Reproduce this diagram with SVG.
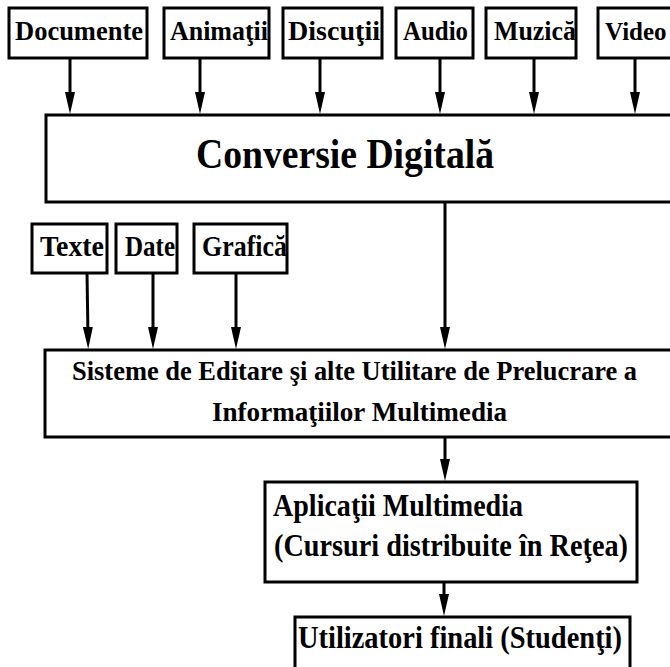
<svg xmlns="http://www.w3.org/2000/svg" width="670" height="667" viewBox="0 0 670 667">
<style>
.box{fill:#fff;stroke:#000;stroke-width:3}
.t{font-family:"Liberation Serif","Times New Roman",serif;font-weight:bold;fill:#000}
.s{font-size:28px}
.m{font-size:29px}
.l{font-size:31px}
.c{stroke:#000;stroke-width:3;fill:none;marker-end:url(#ah)}
</style>
<defs>
<marker id="ah" markerUnits="userSpaceOnUse" viewBox="-12 -6 24 12" refX="0" refY="0" markerWidth="24" markerHeight="12" orient="auto">
<path d="M-10,-5 L12,0 L-10,5 z" fill="#000"/>
</marker>
</defs>
<rect width="670" height="667" fill="#fff"/>
<g id="connectors">
<line class="c" x1="70" y1="58" x2="70" y2="102"/>
<line class="c" x1="200" y1="58" x2="200" y2="102"/>
<line class="c" x1="320" y1="58" x2="320" y2="102"/>
<line class="c" x1="440" y1="58" x2="440" y2="102"/>
<line class="c" x1="534" y1="58" x2="534" y2="102"/>
<line class="c" x1="635" y1="58" x2="635" y2="102"/>
<line class="c" x1="445" y1="202" x2="445" y2="337"/>
<line class="c" x1="87" y1="273" x2="88" y2="337"/>
<line class="c" x1="153" y1="273" x2="153" y2="337"/>
<line class="c" x1="236" y1="273" x2="236" y2="337"/>
<line class="c" x1="445" y1="437" x2="445" y2="469"/>
<line class="c" x1="444" y1="573" x2="444" y2="604"/>
</g>
<g id="documente"><rect class="box" x="9" y="8" width="138" height="50"/><text class="t s" x="15" y="40" textLength="128" lengthAdjust="spacingAndGlyphs">Documente</text></g>
<g id="animatii"><rect class="box" x="164" y="8" width="105" height="50"/><text class="t s" x="170" y="40" textLength="98" lengthAdjust="spacingAndGlyphs">Animaţii</text></g>
<g id="discutii"><rect class="box" x="283" y="8" width="99" height="50"/><text class="t s" x="288" y="40" textLength="92" lengthAdjust="spacingAndGlyphs">Discuţii</text></g>
<g id="audio"><rect class="box" x="396" y="8" width="77" height="50"/><text class="t s" x="403" y="40" textLength="65" lengthAdjust="spacingAndGlyphs">Audio</text></g>
<g id="muzica"><rect class="box" x="486" y="8" width="90" height="50"/><text class="t s" x="494" y="40" textLength="82" lengthAdjust="spacingAndGlyphs">Muzică</text></g>
<g id="video"><rect class="box" x="598" y="8" width="90" height="50"/><text class="t" style="font-size:25px" x="605" y="40">Video</text></g>
<g id="conversie"><rect class="box" x="46" y="115" width="640" height="87"/><text class="t" style="font-size:42px" x="196" y="168" textLength="298" lengthAdjust="spacingAndGlyphs">Conversie Digitală</text></g>
<g id="texte"><rect class="box" x="32" y="224" width="75" height="49"/><text class="t m" x="40" y="256" textLength="64" lengthAdjust="spacingAndGlyphs">Texte</text></g>
<g id="date"><rect class="box" x="116" y="224" width="61" height="49"/><text class="t m" x="125" y="256" textLength="50" lengthAdjust="spacingAndGlyphs">Date</text></g>
<g id="grafica"><rect class="box" x="194" y="224" width="93" height="49"/><text class="t m" x="202" y="256" textLength="85" lengthAdjust="spacingAndGlyphs">Grafică</text></g>
<g id="sisteme"><rect class="box" x="45" y="350" width="640" height="87"/>
<text class="t" style="font-size:27px" x="72" y="380" textLength="565" lengthAdjust="spacingAndGlyphs">Sisteme de Editare şi alte Utilitare de Prelucrare a</text>
<text class="t" style="font-size:27px" x="212" y="421" textLength="295" lengthAdjust="spacingAndGlyphs">Informaţiilor Multimedia</text></g>
<g id="aplicatii"><rect class="box" x="265" y="482" width="372" height="100"/>
<text class="t l" x="273" y="516" textLength="250" lengthAdjust="spacingAndGlyphs">Aplicaţii Multimedia</text>
<text class="t l" x="274" y="556" textLength="354" lengthAdjust="spacingAndGlyphs">(Cursuri distribuite în Reţea)</text></g>
<g id="utilizatori"><rect class="box" x="295" y="617" width="335" height="70"/>
<text class="t l" x="298" y="648" textLength="324" lengthAdjust="spacingAndGlyphs">Utilizatori finali (Studenţi)</text></g>
</svg>
